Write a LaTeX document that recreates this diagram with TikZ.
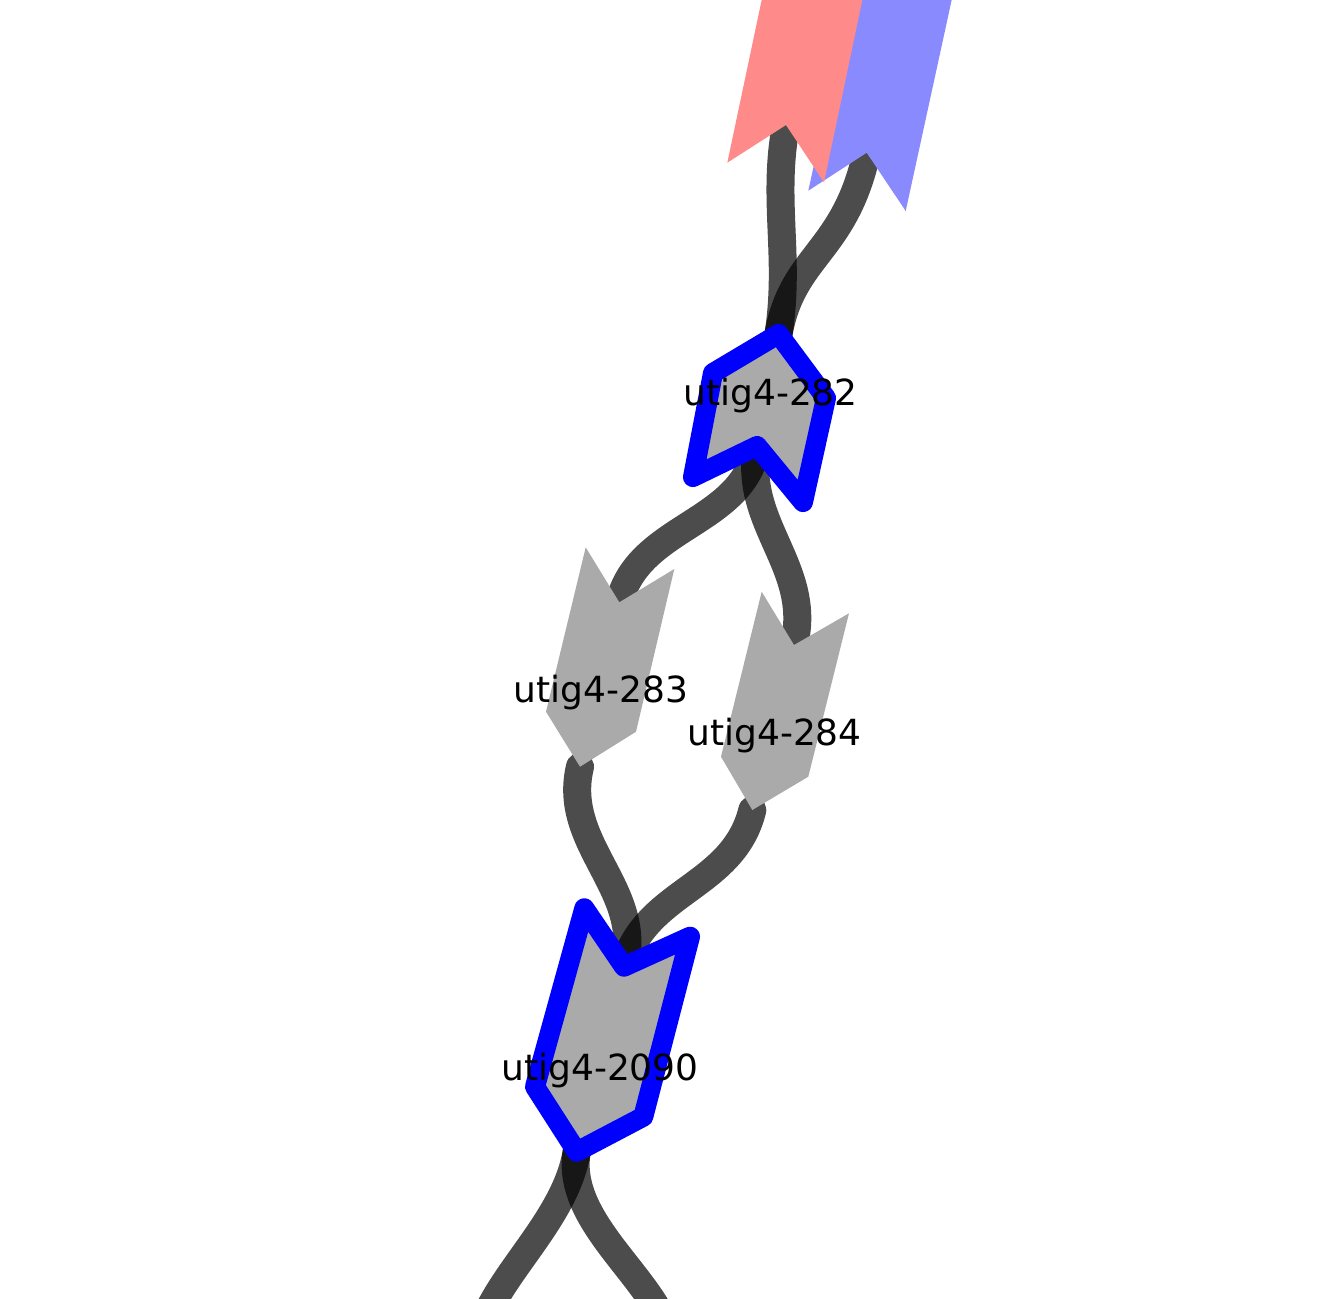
\documentclass[tikz,border=0pt]{standalone}
\usepackage{fontspec}
\setmainfont{DejaVu Sans}
\usepackage{tikz}
\usetikzlibrary{positioning}
\usepackage{xcolor}
\definecolor{contiggrey}{RGB}{170,170,170}
\definecolor{softred}{RGB}{255,138,138}
\definecolor{softblue}{RGB}{138,138,255}
\definecolor{pickblue}{RGB}{0,0,255}

\begin{document}
\begin{tikzpicture}[x=0.5pt, y=-0.5pt,
  link/.style={line width=14pt, black, opacity=0.7, line cap=round},
  contig/.style={fill=contiggrey},
  picked/.style={fill=contiggrey, draw=pickblue, line width=10pt, line join=round},
  tag/.style={font=\fontsize{18pt}{20pt}\selectfont, anchor=base, inner sep=0pt}]
  \useasboundingbox (0,0) rectangle (1344,1298);
  \clip (0,0) rectangle (1344,1298);

  % Ends of the contigs
  \coordinate (nred) at (786,125);
  \coordinate (nblue) at (866.7,152.7);
  \coordinate (t282) at (778.5,334);
  \coordinate (n282) at (757,446);
  \coordinate (n283) at (619.3,602.3);
  \coordinate (t283) at (580,766.7);
  \coordinate (n284) at (794,645);
  \coordinate (t284) at (752.3,810);
  \coordinate (n2090) at (624,966.7);
  \coordinate (t2090) at (576.7,1151.7);
  \coordinate (outL) at (478,1340);
  \coordinate (outR) at (670,1340);

  % Links
  \draw[link] (nred) .. controls +(-14,75) and +(12,-78) .. (t282);
  \draw[link] (nblue) .. controls +(-22,100) and +(14,-79) .. (t282);
  \draw[link] (n282) .. controls +(-14,79) and +(19,-78) .. (n283);
  \draw[link] (n282) .. controls +(-14,79) and +(19,-78) .. (n284);
  \draw[link] (t283) .. controls +(-19,78) and +(21,-77) .. (n2090);
  \draw[link] (t284) .. controls +(-19,78) and +(21,-77) .. (n2090);
  \draw[link] (t2090) .. controls +(-12,72) and +(12,-60) .. (outL);
  \draw[link] (t2090) .. controls +(-12,72) and +(-12,-60) .. (outR);

  % Contigs running in from the top
  \fill[softblue] (856.4,-30) -- (808.3,190.7) -- (nblue) -- (905.7,211) -- (958.2,-30) -- cycle;
  \fill[softred] (768,-30) -- (727.3,162.7) -- (nred) -- (824,182.3) -- (868.6,-30) -- cycle;

  % Contigs
  \fill[contig] (585.7,547.3) -- (n283) -- (674.3,569) -- (636,731.7) -- (t283) -- (546,711.7) -- cycle;
  \fill[contig] (761.7,591.7) -- (n284) -- (849,613.3) -- (808.3,776.7) -- (t284) -- (721,756.7) -- cycle;
  \filldraw[picked] (t282) -- (826,398) -- (803,502) -- (n282) -- (693,477) -- (713,373) -- cycle;
  \filldraw[picked] (584.3,908.3) -- (n2090) -- (690,936.7) -- (643.3,1116.7) -- (t2090) -- (535,1086.7) -- cycle;

  % Names
  \node[tag] (l282) at (770.5,405) {utig4-282};
  \node[tag] (l283) at (601,702.7) {utig4-283};
  \node[tag] (l284) at (774.5,745) {utig4-284};
  \node[tag] (l2090) at (600,1080.7) {utig4-2090};
\end{tikzpicture}
\end{document}
